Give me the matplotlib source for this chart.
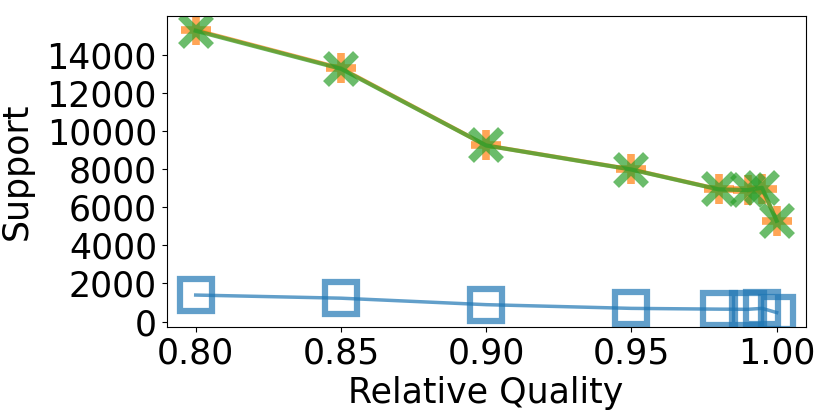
import matplotlib
matplotlib.use("Agg")
import matplotlib.pyplot as plt

# relative quality thresholds
quality = [0.80, 0.85, 0.90, 0.95, 0.98, 0.99, 0.995, 1.00]

# support per method
support_a = [1390, 1225, 885, 690, 650, 640, 690, 470]
support_b = [15300, 13300, 9250, 7990, 6950, 6900, 6950, 5300]
support_c = [15265, 13270, 9243, 7978, 6938, 6900, 7025, 5288]

FONT_SIZE = 25

fig, ax = plt.subplots(figsize=(8.3, 4.15), dpi=100)
fig.subplots_adjust(left=0.2008, right=0.9707, top=0.9614, bottom=0.2128)

ax.plot(quality, support_a, color='C0', marker='s', markersize=23,
        fillstyle='none', markeredgewidth=4.5, linewidth=2.5, alpha=0.7)
ax.plot(quality, support_b, color='C1', marker='+', markersize=22,
        markeredgewidth=5.5, linewidth=3, alpha=0.7)
ax.plot(quality, support_c, color='C2', marker='x', markersize=22,
        markeredgewidth=6, linewidth=3, alpha=0.7)

ax.set_xlabel('Relative Quality', fontsize=FONT_SIZE)
ax.set_ylabel('Support', fontsize=FONT_SIZE, labelpad=9)
ax.tick_params(axis='both', labelsize=FONT_SIZE)
ax.set_yticks([0, 2000, 4000, 6000, 8000, 10000, 12000, 14000])

fig.savefig('out.png')
